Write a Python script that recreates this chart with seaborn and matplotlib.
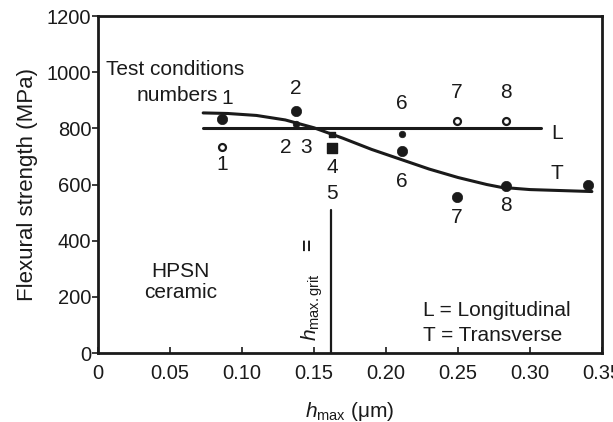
import matplotlib
matplotlib.use("Agg")
import matplotlib.pyplot as plt
import seaborn as sns
import pandas as pd

sns.set_theme(style="white")
plt.rcParams['font.family'] = ['Liberation Sans', 'DejaVu Sans']
plt.rcParams['mathtext.fontset'] = 'custom'
plt.rcParams['mathtext.rm'] = 'Liberation Sans'
plt.rcParams['mathtext.it'] = 'Liberation Sans:italic'

INK = "#1a1a1a"
FS = 15

# Longitudinal line (L)
L_x = [0.073, 0.308]
L_y = [800, 800]

# Transverse curve (T)
T_x = [0.073, 0.09, 0.11, 0.13, 0.15, 0.17, 0.19, 0.21, 0.23, 0.25, 0.27, 0.28, 0.30, 0.343]
T_y = [855, 853, 846, 830, 802, 765, 725, 690, 655, 625, 600, 590, 582, 575]

# Filled circles (transverse data)
Tf_x = [0.086, 0.1375, 0.211, 0.249, 0.283, 0.340]
Tf_y = [835, 862, 720, 555, 595, 600]

# Open circles (longitudinal data)
Lo_x = [0.086, 0.249, 0.283]
Lo_y = [735, 825, 825]

# Small filled dots
Sd_x = [0.1375, 0.211]
Sd_y = [815, 780]

# Squares
Sq_x = [0.1625, 0.1625]
Sq_y = [730, 778]
Sq_s = [45, 18]

# Critical grit depth line
grit_x = [0.1616, 0.1616]
grit_y = [0, 510]

# Condition number labels
num_labels = ["1", "1", "2", "2", "3", "4", "5", "6", "6", "7", "7", "8", "8"]
num_x = [0.090, 0.086, 0.1375, 0.1306, 0.1444, 0.1625, 0.1625, 0.211, 0.211, 0.249, 0.249, 0.283, 0.283]
num_y = [908, 673, 943, 733, 733, 662, 569, 890, 609, 926, 484, 926, 527]

fig, ax = plt.subplots(figsize=(6.13, 4.22), dpi=100)
fig.subplots_adjust(left=0.160, right=0.982, bottom=0.1635, top=0.962)

sns.lineplot(x=L_x, y=L_y, ax=ax, color=INK, lw=2.2, estimator=None, sort=False)
sns.lineplot(x=T_x, y=T_y, ax=ax, color=INK, lw=2.2, estimator=None, sort=False)
sns.lineplot(x=grit_x, y=grit_y, ax=ax, color=INK, lw=1.6, estimator=None, sort=False)

sns.scatterplot(x=Tf_x, y=Tf_y, ax=ax, color=INK, s=55, edgecolor=INK, linewidth=0.5, zorder=5)
sns.scatterplot(x=Lo_x, y=Lo_y, ax=ax, facecolor="white", edgecolor=INK, s=25, linewidth=1.6, zorder=5)
sns.scatterplot(x=Sd_x, y=Sd_y, ax=ax, color=INK, s=22, edgecolor=INK, linewidth=0.5, zorder=5)
ax.scatter(Sq_x, Sq_y, marker="s", s=Sq_s, color=INK, zorder=5)

for t, x, y in zip(num_labels, num_x, num_y):
    ax.text(x, y, t, ha="center", va="center", fontsize=FS, color=INK)

ax.text(0.0535, 1011, "Test conditions", ha="center", va="center", fontsize=FS, color=INK)
ax.text(0.0835, 918, "numbers", ha="right", va="center", fontsize=FS, color=INK)
ax.text(0.319, 783, "L", ha="center", va="center", fontsize=FS, color=INK)
ax.text(0.319, 641, "T", ha="center", va="center", fontsize=FS, color=INK)
ax.text(0.057, 253, "HPSN\nceramic", ha="center", va="center", fontsize=FS,
        color=INK, linespacing=1.1)
ax.text(0.146, 385, "=", ha="center", va="center", fontsize=FS, rotation=90,
        color=INK, fontweight="bold")
ax.text(0.1485, 164, r"$h_{\mathrm{max.grit}}$", ha="center", va="center",
        fontsize=FS, rotation=90, color=INK)
ax.text(0.226, 153, "L = Longitudinal", ha="left", va="center", fontsize=FS, color=INK)
ax.text(0.226, 64, "T = Transverse", ha="left", va="center", fontsize=FS, color=INK)

ax.set_xlim(0, 0.35)
ax.set_ylim(0, 1200)
ax.set_xticks([0, 0.05, 0.10, 0.15, 0.20, 0.25, 0.30, 0.35])
ax.set_xticklabels(["0", "0.05", "0.10", "0.15", "0.20", "0.25", "0.30", "0.35"])
ax.set_yticks([0, 200, 400, 600, 800, 1000, 1200])
ax.set_yticklabels(["0", "200", "400", "600", "800", "1000", "1200"])
ax.tick_params(axis="x", direction="in", length=4, width=1.2, labelsize=14.5, colors=INK, pad=8)
ax.tick_params(axis="y", direction="out", length=4, width=1.2, labelsize=14.5, colors=INK, pad=1)
ax.tick_params(left=True, bottom=True)

ax.set_xlabel(r"$h_{\mathrm{max}}$ (μm)", fontsize=FS, color=INK, labelpad=12)
ax.set_ylabel("Flexural strength (MPa)", fontsize=16, color=INK, labelpad=6)

for sp in ax.spines.values():
    sp.set_visible(True)
    sp.set_color(INK)
    sp.set_linewidth(2)

fig.savefig("out.png", dpi=100)
